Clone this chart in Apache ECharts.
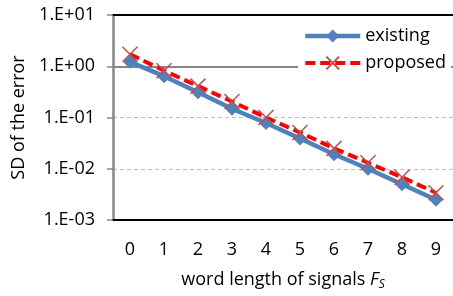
<!DOCTYPE html>
<html>
<head>
<meta charset="utf-8">
<script src="https://cdn.jsdelivr.net/npm/echarts@6/dist/echarts.min.js"></script>
<style>
  html, body { margin: 0; padding: 0; background: #fff; }
  #chart { width: 453px; height: 296px; }
</style>
</head>
<body>
<div id="chart"></div>
<script>
// word length of signals F_S
const categories = ['0', '1', '2', '3', '4', '5', '6', '7', '8', '9']
// SD of the error
const existing = [1.22, 0.64, 0.31, 0.148, 0.078, 0.039, 0.0192, 0.0100, 0.0050, 0.00248]
const proposed = [1.72, 0.82, 0.41, 0.205, 0.100, 0.051, 0.0250, 0.0131, 0.0068, 0.0034]
const yTickLabels = ['1.E-03', '1.E-02', '1.E-01', '1.E+00', '1.E+01']

const font = 'Open Sans'
const axisGray = '#868686'

const chart = echarts.init(document.getElementById('chart'))

const option = {
  animation: false,
  textStyle: { fontFamily: font, color: '#000' },
  grid: { left: 113, right: 0, top: 15, bottom: 68, containLabel: false },
  legend: {
    orient: 'vertical',
    left: 298,
    top: 22,
    padding: [5, 5],
    backgroundColor: '#fff',
    itemWidth: 55,
    itemHeight: 16,
    itemGap: 9,
    selectedMode: false,
    lineStyle: { width: 'inherit' },
    textStyle: { fontFamily: font, fontSize: 18, color: '#000' },
    data: ['existing', 'proposed']
  },
  xAxis: [
    {
      type: 'category',
      data: categories,
      boundaryGap: true,
      position: 'bottom',
      axisLine: { lineStyle: { color: '#000', width: 2 } },
      axisTick: { show: false },
      axisLabel: { fontFamily: font, fontSize: 18, color: '#000', margin: 21 },
      name: '{n|word length of signals }{i|F}{s|S}',
      nameLocation: 'middle',
      nameGap: 49,
      nameTextStyle: {
        rich: {
          n: { fontFamily: font, fontSize: 18, color: '#000', lineHeight: 22 },
          i: { fontFamily: font, fontSize: 18, color: '#000', fontStyle: 'italic', lineHeight: 22 },
          s: { fontFamily: font, fontSize: 12, color: '#000', fontStyle: 'italic', lineHeight: 22, verticalAlign: 'bottom' }
        }
      }
    },
    {
      type: 'category',
      data: categories,
      position: 'top',
      axisLine: { lineStyle: { color: '#000', width: 2 } },
      axisTick: { show: false },
      axisLabel: { show: false }
    }
  ],
  yAxis: {
    type: 'log',
    logBase: 10,
    min: 0.001,
    max: 10,
    name: 'SD of the error',
    nameLocation: 'middle',
    nameGap: 82,
    nameTextStyle: { fontFamily: font, fontSize: 18, color: '#000' },
    axisLine: { show: true, lineStyle: { color: axisGray, width: 2.5 } },
    axisTick: { show: true, length: 6, lineStyle: { color: axisGray, width: 1.5 } },
    axisLabel: {
      fontFamily: font,
      fontSize: 18,
      color: '#000',
      margin: 18,
      formatter: function (v) {
        const idx = Math.round(Math.log10(v)) + 3
        return yTickLabels[idx] || ''
      }
    },
    splitLine: { show: true, lineStyle: { color: '#BFBFBF', width: 1, type: [4, 3] } }
  },
  series: [
    {
      name: 'existing',
      type: 'line',
      data: existing,
      symbol: 'diamond',
      symbolSize: 14,
      lineStyle: { color: '#4F81BD', width: 4.5 },
      itemStyle: { color: '#4F81BD' },
      markLine: {
        silent: true,
        z: 1,
        symbol: 'none',
        label: { show: false },
        lineStyle: { color: axisGray, width: 2, type: 'solid' },
        data: [{ yAxis: 1 }]
      }
    },
    {
      name: 'proposed',
      type: 'line',
      data: proposed,
      symbol: 'path://M0,0 L10,10 M10,0 L0,10',
      symbolSize: 15,
      lineStyle: { color: '#FF0000', width: 4, type: [10, 5] },
      itemStyle: { color: 'rgba(0,0,0,0)', borderColor: '#C0504D', borderWidth: 1.5 }
    }
  ]
}

chart.setOption(option)
</script>
</body>
</html>
